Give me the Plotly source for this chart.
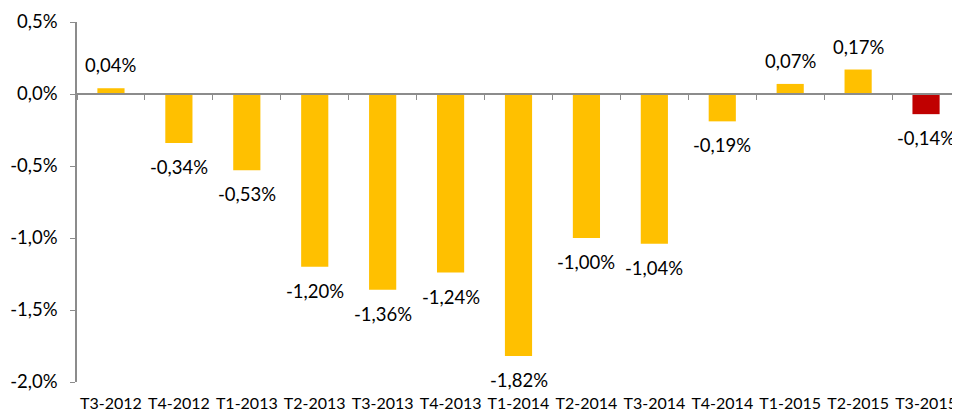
import plotly.graph_objects as go

categories = ["T3-2012", "T4-2012", "T1-2013", "T2-2013", "T3-2013", "T4-2013", "T1-2014",
              "T2-2014", "T3-2014", "T4-2014", "T1-2015", "T2-2015", "T3-2015"]
values = [0.04, -0.34, -0.53, -1.20, -1.36, -1.24, -1.82, -1.00, -1.04, -0.19, 0.07, 0.17, -0.14]
colors = ["#FFC000"] * 12 + ["#C00000"]
ytick_vals = [0.5, 0.0, -0.5, -1.0, -1.5, -2.0]
ytick_text = ["0,5%", "0,0%", "-0,5%", "-1,0%", "-1,5%", "-2,0%"]

FONT = "Lato"
AXIS = "#8c8c8c"
y_min, y_max = -2.0, 0.5

labels = [f"{v:.2f}".replace(".", ",") + "%" for v in values]

fig = go.Figure()
fig.add_trace(go.Bar(x=categories, y=values, marker_color=colors, marker_line_width=0,
                     hoverinfo="skip", showlegend=False))
# invisible trace for the zero-line axis
fig.add_trace(go.Bar(x=categories, y=[0] * len(categories), xaxis="x2", showlegend=False,
                     hoverinfo="skip", marker_color="rgba(0,0,0,0)"))

for c, v, t in zip(categories, values, labels):
    fig.add_annotation(x=c, y=v, text=t, showarrow=False,
                       yanchor="bottom" if v >= 0 else "top",
                       yshift=10 if v >= 0 else -11,
                       font=dict(family=FONT, size=18.5, color="#000000"))

zero_pos = (0 - y_min) / (y_max - y_min)

fig.update_layout(
    width=952, height=404,
    margin=dict(l=69, r=0, t=14, b=30),
    plot_bgcolor="white", paper_bgcolor="white",
    bargap=0.6,
    font=dict(family=FONT, size=16, color="#000000"),
    xaxis=dict(type="category", categoryorder="array", categoryarray=categories,
               range=[-0.5, len(categories) - 0.5],
               showline=False, ticks="", showgrid=False, zeroline=False,
               ticklabelstandoff=10,
               tickfont=dict(family=FONT, size=16, color="#000000")),
    xaxis2=dict(type="category", categoryorder="array", categoryarray=categories,
                range=[-0.5, len(categories) - 0.5], overlaying="x", anchor="free",
                position=zero_pos, side="bottom",
                showline=True, linecolor=AXIS, linewidth=1.5,
                ticks="outside", tickson="boundaries", ticklen=5, tickcolor=AXIS,
                showticklabels=False, showgrid=False, zeroline=False),
    yaxis=dict(range=[y_min, y_max], tickvals=ytick_vals, ticktext=ytick_text,
               showline=True, linecolor=AXIS, linewidth=1.5,
               ticks="outside", ticklen=5, tickcolor=AXIS,
               showgrid=False, zeroline=False, ticklabelstandoff=9,
               tickfont=dict(family=FONT, size=18.5, color="#000000")),
)

fig.write_html("out.html")
